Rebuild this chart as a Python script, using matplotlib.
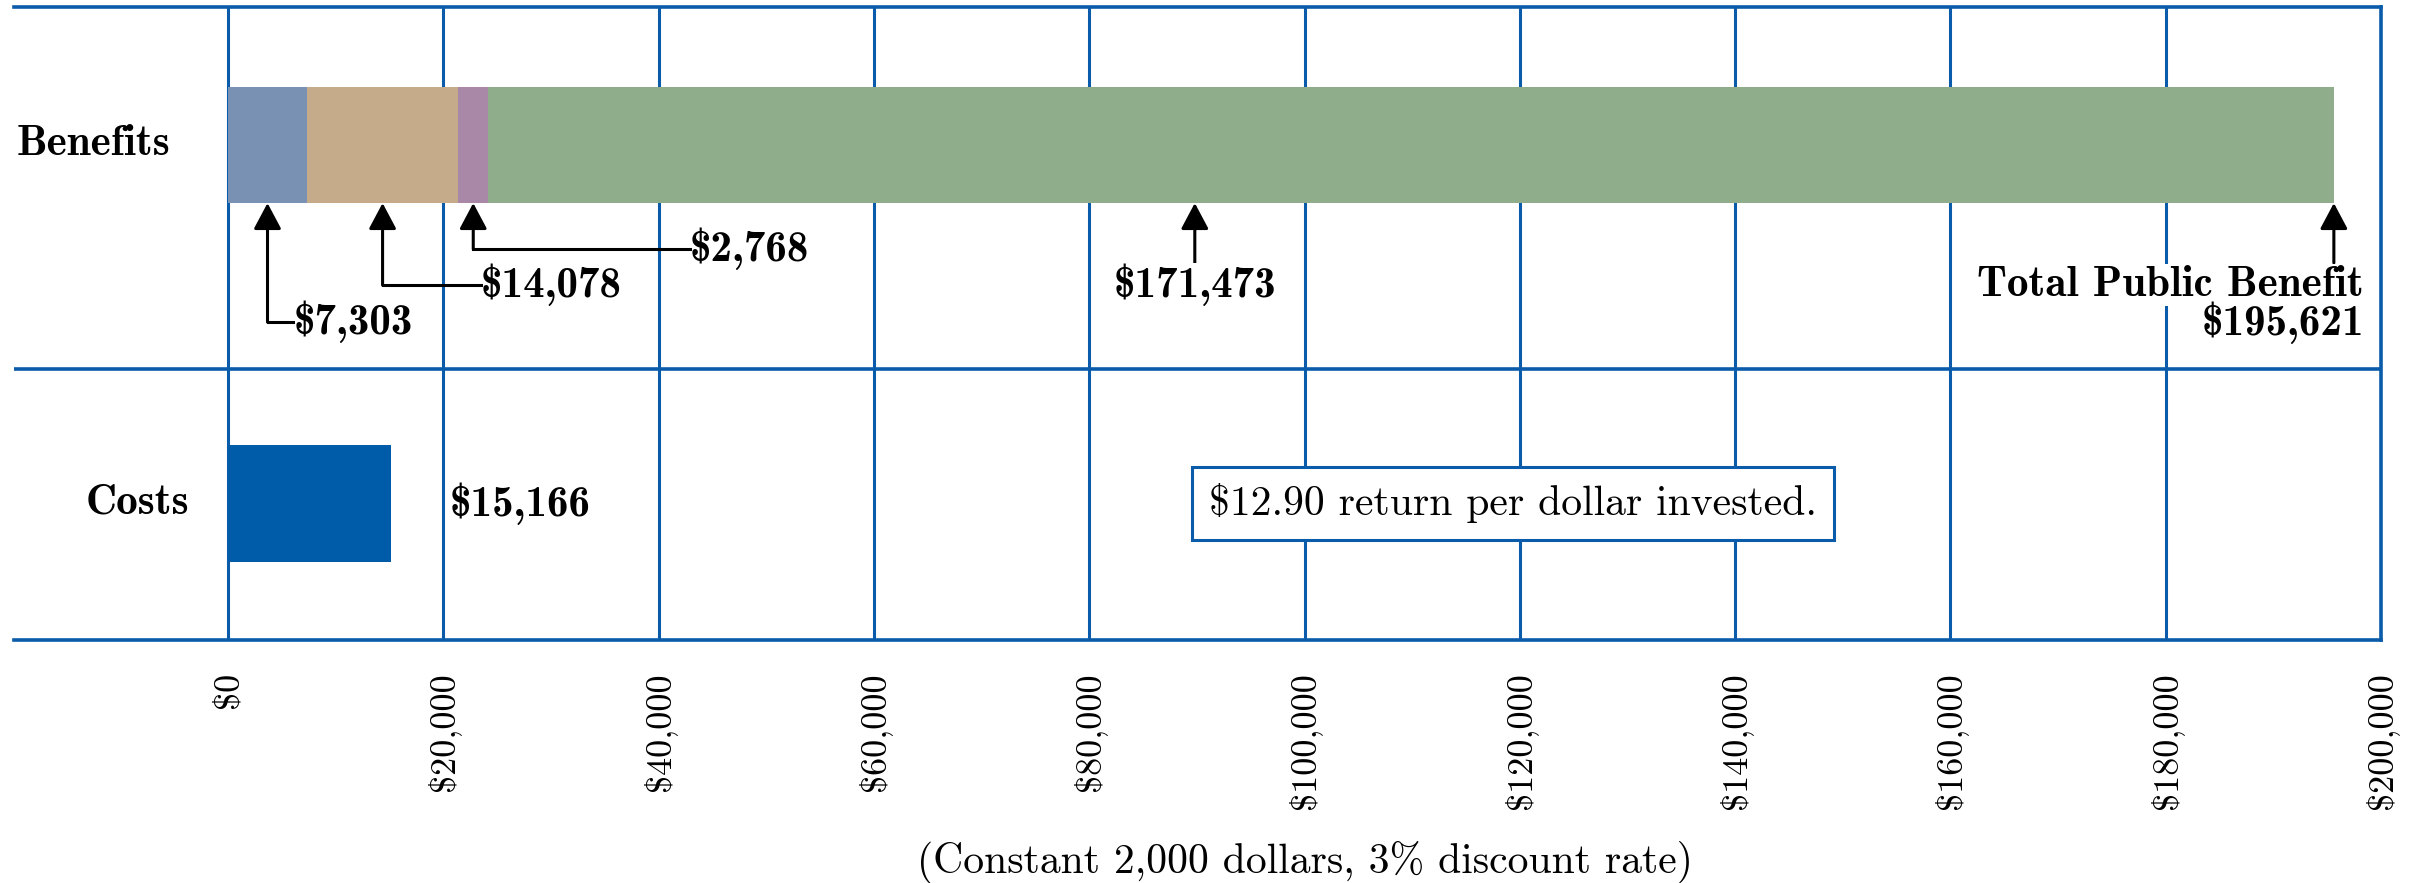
import matplotlib
matplotlib.use("Agg")
import matplotlib.pyplot as plt
from matplotlib.ticker import FuncFormatter

# values
benefit_parts = [7303, 14078, 2768, 171473]
benefit_colors = ["#7992B3", "#C5AB89", "#A888A6", "#8FAD8B"]
total_benefit = 195621
cost = 15166
ratio_text = "$12.90 return per dollar invested."
categories = ["Costs", "Benefits"]
xticks = list(range(0, 200001, 20000))

BLUE = "#0A5CAA"
REG = ["cmr10", "DejaVu Serif"]
BOLD = ["cmb10", "DejaVu Serif"]


def main():
    fig = plt.figure(figsize=(24.12, 8.83), dpi=100)
    ax = fig.add_axes([14 / 2412, 243 / 883, (2381 - 14) / 2412, 633 / 883])

    h = 0.324
    # stacked benefits bar
    left = 0
    mids = []
    for val, col in zip(benefit_parts, benefit_colors):
        ax.barh(1, val, left=left, height=h, color=col, zorder=3)
        mids.append(left + val / 2)
        left += val
    ax.barh(0, cost, height=h, color="#005BA9", zorder=3)

    ax.set_xlim(-19900, 200000)
    ax.set_ylim(-0.381, 1.385)
    ax.set_xticks(xticks)
    ax.xaxis.set_major_formatter(FuncFormatter(lambda v, p: f"${v:,.0f}"))
    ax.tick_params(axis="x", length=0, pad=23, labelrotation=90)
    for lab in ax.get_xticklabels():
        lab.set_family(REG)
        lab.set_fontsize(26)
    ax.set_yticks([])
    ax.grid(axis="x", color=BLUE, lw=2.2, zorder=1)
    ax.set_axisbelow(True)
    ax.axhline(0.375, color=BLUE, lw=2.6, zorder=1)
    for s in ["top", "bottom", "right"]:
        ax.spines[s].set_color(BLUE)
        ax.spines[s].set_linewidth(2.6)
    ax.spines["left"].set_visible(False)

    fs = 31
    # row labels
    ax.text(-19700, 1, "Benefits", ha="left", va="center", fontsize=fs, family=BOLD)
    ax.text(-3600, 0, "Costs", ha="right", va="center", fontsize=fs, family=BOLD)

    bar_bottom = 1 - h / 2
    arrow = dict(arrowstyle="-|>,head_length=1.6,head_width=0.85", color="black",
                 lw=2.2, shrinkA=0, shrinkB=0)

    # elbow callouts for the three small segments
    elbow_y = [0.506, 0.609, 0.710]
    label_x = [6050, 23450, 42900]
    for mid, val, ey, lx in zip(mids[:3], benefit_parts[:3], elbow_y, label_x):
        ax.annotate("", xy=(mid, bar_bottom), xytext=(mid, ey), arrowprops=arrow, zorder=5)
        ax.plot([mid, lx], [ey, ey], color="black", lw=2.2, zorder=5)
        ax.text(lx, ey, f"${val:,}", ha="left", va="center", fontsize=fs,
                family=BOLD, zorder=6)

    # big segment
    mx = 89800
    ax.annotate("", xy=(mx, bar_bottom), xytext=(mx, 0.671), arrowprops=arrow, zorder=5)
    ax.text(mx, 0.609, f"${benefit_parts[3]:,}", ha="center", va="center", fontsize=fs,
            family=BOLD, zorder=6, bbox=dict(fc="white", ec="none", pad=1))

    # total
    ax.annotate("", xy=(total_benefit, bar_bottom), xytext=(total_benefit, 0.671),
                arrowprops=arrow, zorder=5)
    ax.text(198400, 0.609, "Total Public Benefit", ha="right", va="center", fontsize=fs,
            family=BOLD, zorder=6, bbox=dict(fc="white", ec="none", pad=1))
    ax.text(198400, 0.503, f"${total_benefit:,}", ha="right", va="center", fontsize=fs,
            family=BOLD, zorder=6, bbox=dict(fc="white", ec="none", pad=1))

    # cost value
    ax.annotate(f"${cost:,}", xy=(cost, 0), xytext=(42, 0), textcoords="offset points",
                ha="left", va="center", fontsize=fs, family=BOLD)

    # ratio box
    ax.text(119350, 0, ratio_text, ha="center", va="center", fontsize=30, family=REG,
            zorder=6, bbox=dict(boxstyle="square,pad=0.4", fc="white", ec=BLUE, lw=2.2))

    fig.text((228 + 2381) / 2 / 2412, 1 - 862 / 883,
             "(Constant 2,000 dollars, 3% discount rate)", ha="center", va="center",
             fontsize=30, family=REG)

    fig.savefig("out.png", dpi=100)


if __name__ == "__main__":
    main()
